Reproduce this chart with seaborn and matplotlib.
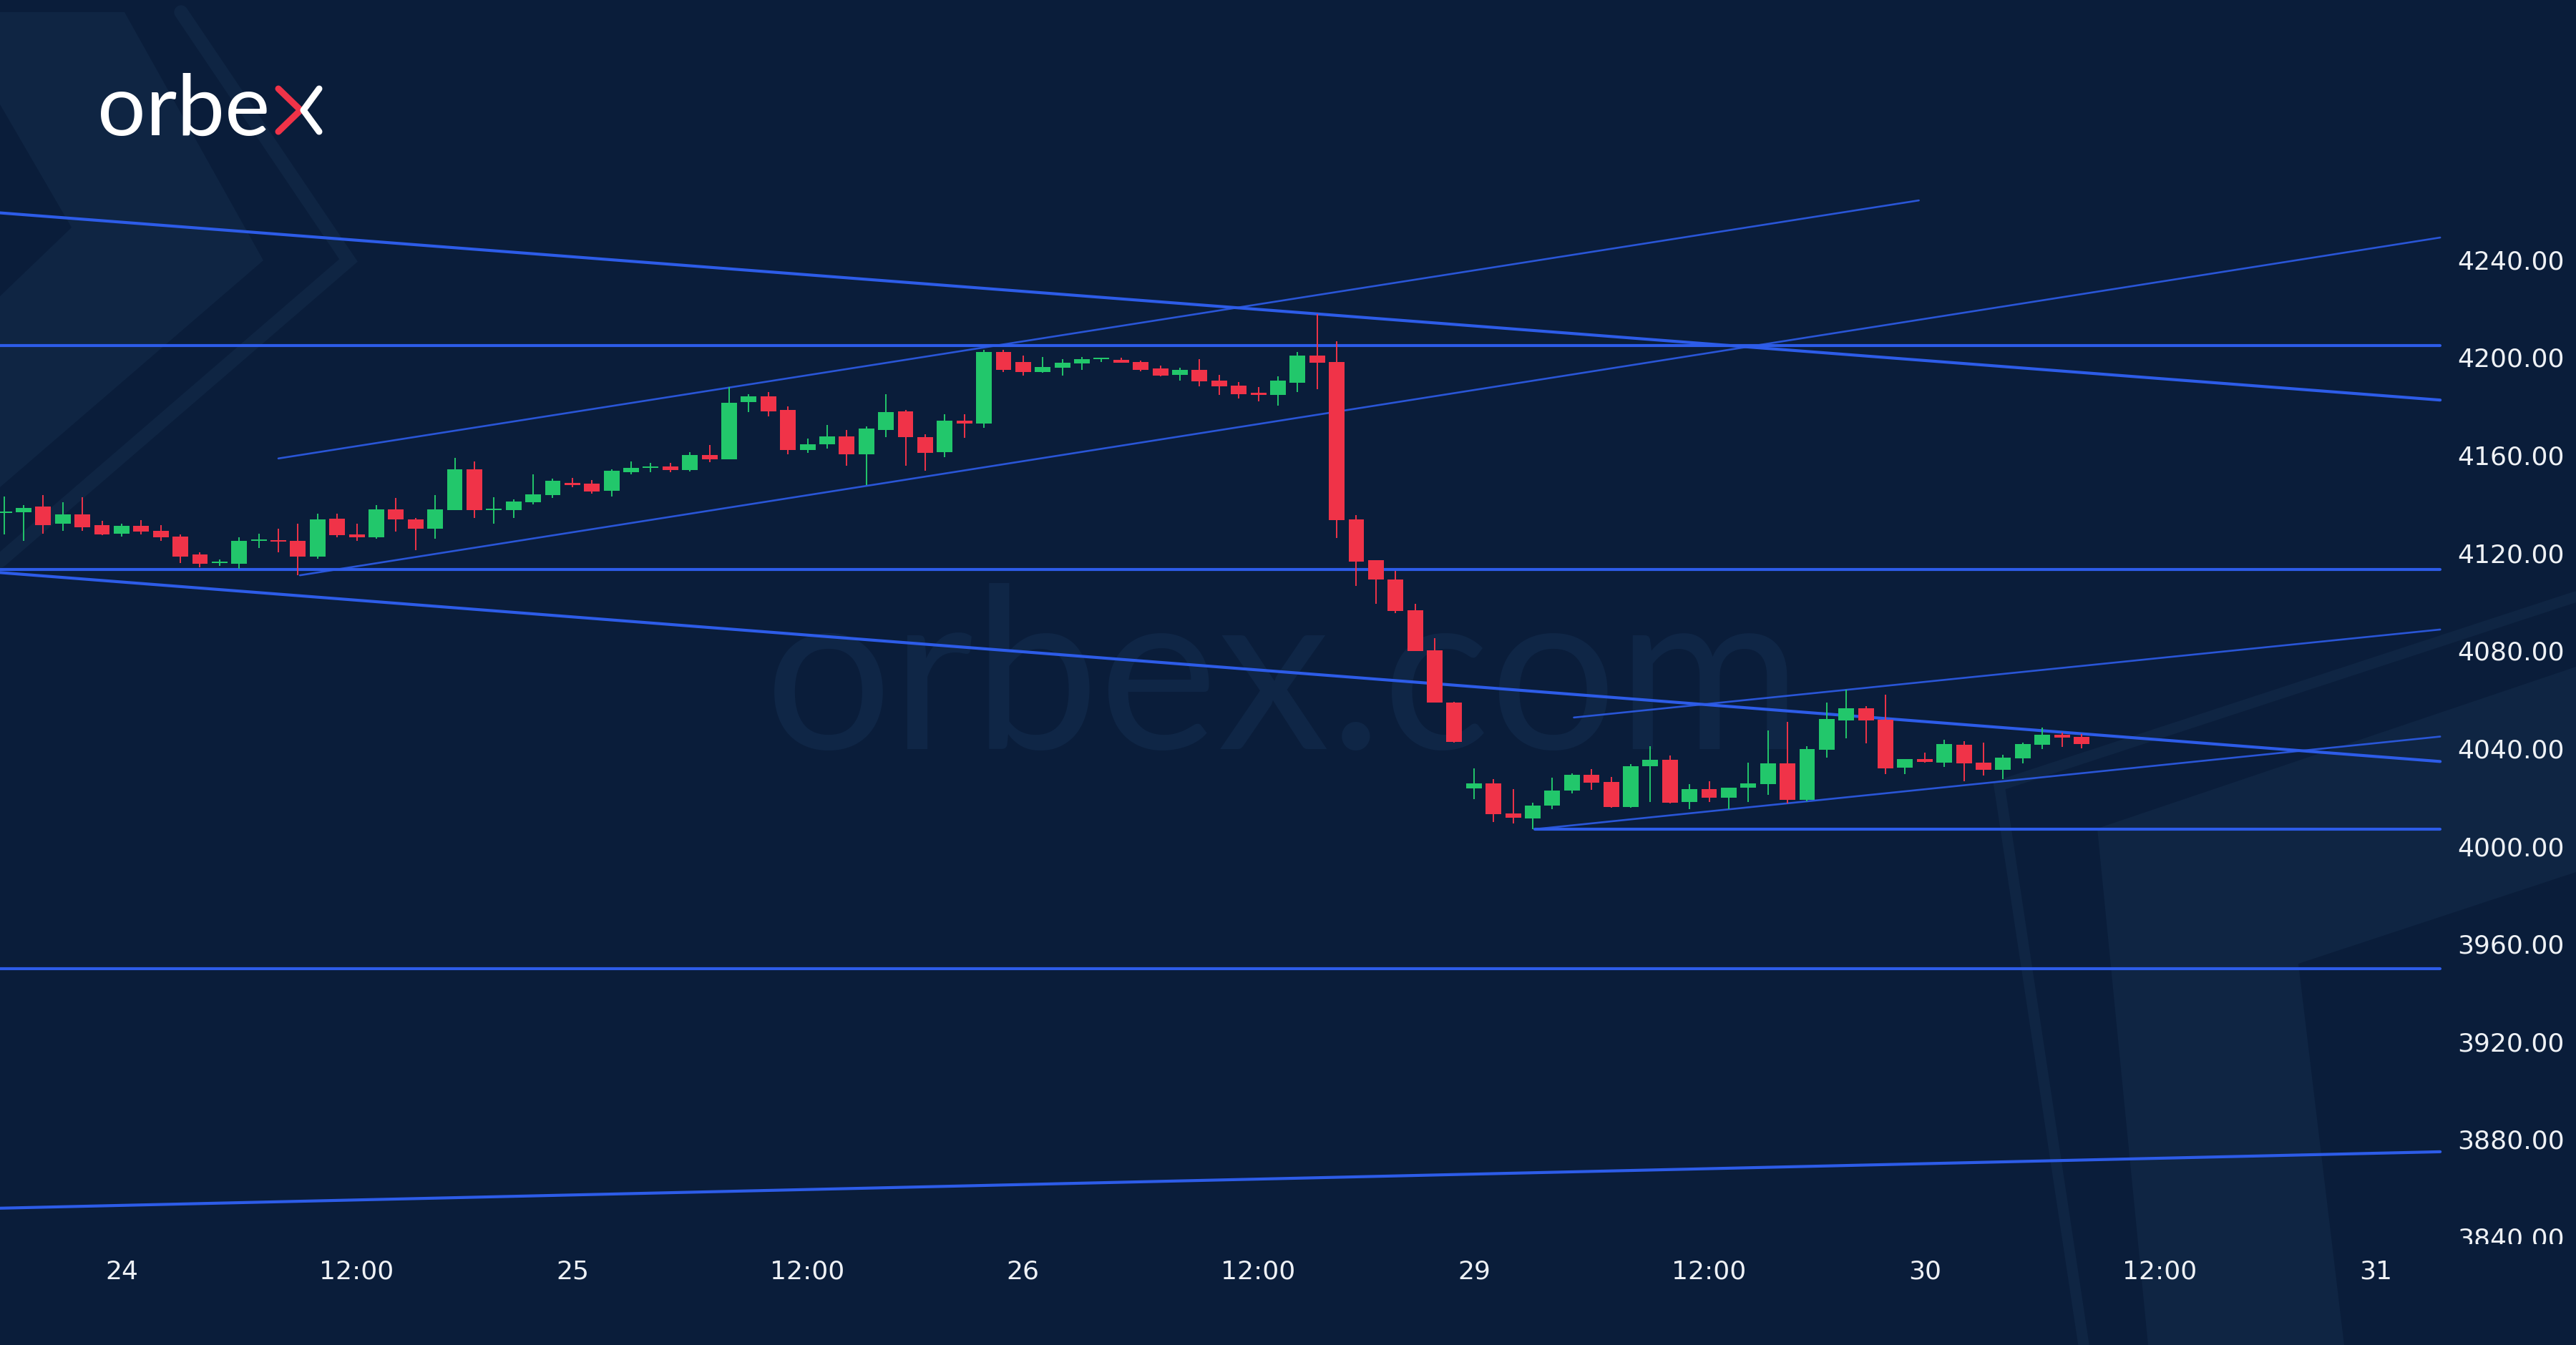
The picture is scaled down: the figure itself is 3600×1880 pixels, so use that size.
import numpy as np
import pandas as pd
import matplotlib
matplotlib.use("Agg")
import matplotlib.pyplot as plt
import matplotlib.patches as mpatches
import seaborn as sns

sns.set_theme(style="dark")
plt.rcParams["font.family"] = ["DejaVu Sans"]

# ---------------- data (hourly candles, index 0 = 24th 00:00) ----------------
hour_idx = list(range(-6, 101))
opens = [4136.1, 4136.4, 4138.5, 4131.5, 4135.4, 4131.0,
         4127.6, 4130.7, 4128.6, 4126.3, 4119.1, 4115.5, 4115.1, 4124.6, 4124.6, 4124.7,
         4118.2, 4133.7, 4127.2, 4125.9, 4137.6, 4133.3, 4129.6, 4137.1, 4154.0, 4137.3,
         4137.1, 4140.3, 4143.2, 4148.4, 4147.9, 4145.0, 4152.7, 4154.3, 4155.1, 4153.5,
         4159.8, 4157.9, 4181.3, 4183.7, 4178.1, 4161.8, 4164.0, 4167.3, 4160.1, 4170.1,
         4177.7, 4167.1, 4161.0, 4173.8, 4172.5, 4201.8, 4197.9, 4193.7, 4195.4, 4197.1,
         4198.8, 4198.7, 4197.9, 4195.2, 4192.5, 4194.5, 4190.1, 4188.1, 4185.2, 4184.2,
         4189.4, 4200.5, 4197.9, 4133.3, 4116.7, 4108.9, 4096.2, 4079.7, 4058.5,
         4023.4, 4025.4, 4012.9, 4011.0, 4016.2, 4022.5, 4028.9, 4025.9, 4015.6, 4032.5,
         4034.9, 4017.8, 4022.9, 4019.6, 4023.5, 4025.1, 4033.6, 4018.5, 4039.0, 4051.0,
         4056.2, 4051.5, 4031.8, 4035.4, 4033.7, 4041.0, 4033.7, 4030.8, 4035.6, 4041.0,
         4045.3, 4044.5]
highs = [4142.7, 4139.3, 4143.4, 4140.3, 4142.4, 4132.7,
         4131.7, 4133.0, 4131.0, 4127.1, 4120.0, 4117.1, 4125.9, 4127.4, 4129.6, 4131.7,
         4135.6, 4135.6, 4131.5, 4139.3, 4142.1, 4134.0, 4143.2, 4158.4, 4157.2, 4142.3,
         4141.6, 4151.8, 4150.1, 4150.2, 4149.6, 4153.8, 4157.1, 4156.6, 4156.6, 4160.8,
         4163.7, 4187.6, 4184.5, 4185.5, 4179.5, 4166.4, 4172.0, 4170.1, 4171.5, 4184.5,
         4178.2, 4168.3, 4176.4, 4176.4, 4202.8, 4202.8, 4200.5, 4199.8, 4198.9, 4199.8,
         4199.6, 4199.4, 4198.4, 4196.2, 4195.4, 4199.0, 4192.5, 4189.6, 4187.6, 4192.0,
         4201.8, 4217.3, 4206.2, 4135.0, 4116.7, 4112.4, 4098.8, 4084.9, 4058.6,
         4031.5, 4027.1, 4023.0, 4017.3, 4027.8, 4029.5, 4031.2, 4028.1, 4033.2, 4040.6,
         4036.7, 4025.1, 4026.3, 4023.7, 4033.7, 4047.1, 4050.5, 4040.6, 4058.3, 4063.7,
         4056.9, 4061.7, 4035.4, 4037.8, 4043.2, 4042.5, 4041.9, 4037.0, 4041.9, 4048.1,
         4046.1, 4045.6]
lows = [4127.1, 4124.7, 4127.6, 4128.8, 4128.8, 4126.8,
        4126.4, 4127.1, 4124.7, 4115.4, 4113.8, 4114.2, 4113.2, 4121.8, 4119.8, 4110.5,
        4117.4, 4125.9, 4124.7, 4125.5, 4128.4, 4120.8, 4125.5, 4137.1, 4134.0, 4131.5,
        4134.0, 4139.5, 4142.1, 4146.6, 4144.0, 4142.7, 4151.8, 4152.7, 4152.7, 4153.0,
        4156.9, 4157.9, 4177.4, 4175.6, 4160.0, 4160.6, 4162.3, 4155.2, 4147.3, 4167.1,
        4155.4, 4153.2, 4158.7, 4166.8, 4170.8, 4193.8, 4192.2, 4193.5, 4192.2, 4194.5,
        4197.9, 4197.4, 4194.0, 4191.8, 4190.3, 4187.9, 4184.2, 4182.8, 4181.8, 4179.8,
        4185.5, 4186.6, 4125.7, 4106.0, 4098.8, 4094.9, 4079.5, 4058.3, 4042.0,
        4018.8, 4009.5, 4009.0, 4006.6, 4014.9, 4021.2, 4022.7, 4015.4, 4015.4, 4017.8,
        4017.1, 4014.9, 4017.8, 4014.9, 4017.8, 4020.7, 4017.1, 4018.1, 4035.9, 4043.7,
        4041.7, 4029.1, 4029.2, 4033.9, 4032.0, 4026.3, 4028.6, 4027.1, 4033.4, 4039.5,
        4040.3, 4039.6]
closes = [4136.7, 4138.0, 4131.0, 4135.4, 4130.2, 4127.3,
          4130.7, 4128.3, 4126.0, 4118.2, 4115.2, 4115.8, 4124.7, 4124.8, 4124.3, 4118.2,
          4133.3, 4126.8, 4125.9, 4137.6, 4133.5, 4129.6, 4137.6, 4154.0, 4137.1, 4137.4,
          4140.6, 4143.5, 4149.3, 4147.4, 4144.7, 4153.2, 4154.3, 4154.5, 4153.7, 4159.6,
          4157.9, 4181.1, 4183.7, 4177.7, 4161.8, 4164.2, 4167.3, 4160.1, 4170.4, 4177.2,
          4167.0, 4160.6, 4173.8, 4172.5, 4201.8, 4194.5, 4193.7, 4195.7, 4197.4, 4198.9,
          4198.9, 4197.6, 4194.5, 4192.2, 4194.5, 4189.8, 4187.8, 4184.7, 4184.2, 4190.3,
          4200.5, 4197.6, 4133.0, 4116.0, 4108.9, 4095.8, 4079.5, 4058.3, 4042.2,
          4025.4, 4012.7, 4011.3, 4016.4, 4022.4, 4028.9, 4025.6, 4015.6, 4032.3, 4034.9,
          4017.5, 4022.9, 4019.6, 4023.7, 4025.4, 4033.6, 4018.5, 4039.3, 4051.8, 4056.2,
          4051.0, 4031.5, 4035.4, 4034.2, 4041.4, 4033.4, 4030.8, 4035.9, 4041.4, 4045.3,
          4044.2, 4041.5]

tick_pos = [0, 12, 23, 35, 46, 58, 69, 81, 92, 104, 115]
tick_lbl = ["24", "12:00", "25", "12:00", "26", "12:00", "29", "12:00", "30", "12:00", "31"]
price_ticks = [3840, 3880, 3920, 3960, 4000, 4040, 4080, 4120, 4160, 4200, 4240]

# drawn trend lines: start / end (hour index, price)
line_name = ["res_desc", "res_flat", "mid_flat", "sup_desc", "chan_up", "chan_lo",
             "low_flat", "base_up", "mon_flat", "tri_lo", "tri_hi"]
line_k0 = [-6.2, -6.2, -6.2, -6.2, 8.0, 9.1, -6.2, -6.2, 72.1, 72.1, 74.1]
line_p0 = [4258.8, 4204.4, 4113.0, 4111.6, 4158.3, 4110.5, 3949.5, 3851.5, 4006.6, 4006.6, 4052.3]
line_k1 = [118.3, 118.3, 118.3, 118.3, 91.7, 118.3, 118.3, 118.3, 118.3, 118.3, 118.3]
line_p1 = [4182.2, 4204.4, 4113.0, 4034.3, 4263.9, 4248.7, 3949.5, 3874.6, 4006.6, 4044.5, 4088.3]
line_thick = [True, True, True, True, False, False, True, True, True, False, False]

# ---------------- styling ----------------
BG = "#0a1d3a"
BG_LIGHT = "#0f2543"
GREEN = "#22c76b"
RED = "#f03348"
BLUE = "#2d5ce8"
TXT = "#eef1f5"

W, H = 3600, 1881
fig = plt.figure(figsize=(W / 100, H / 100), dpi=100, facecolor=BG)

# background decoration (pixel coordinates)
bg = fig.add_axes([0, 0, 1, 1], zorder=0)
bg.set_xlim(0, W)
bg.set_ylim(H, 0)
bg.axis("off")
bg.add_patch(mpatches.Polygon([(0, 18), (174, 18), (368, 365), (0, 682)], closed=True,
                              color=BG_LIGHT, lw=0))
bg.add_patch(mpatches.Polygon([(0, 147), (100, 319), (0, 415)], closed=True, color=BG, lw=0))
bg.plot([253, 487, 0], [18, 365, 785], color=BG_LIGHT, lw=14, solid_joinstyle="miter")
bg.add_patch(mpatches.Polygon([(2931, 1159), (3600, 933), (3600, 1220), (3212, 1348),
                               (3276, 1881), (3002, 1881)], closed=True, color=BG_LIGHT, lw=0))
bg.plot([3600, 2794, 2912], [835, 1099, 1881], color=BG_LIGHT, lw=11, solid_joinstyle="miter")

# watermark
bg.text(1069, 1047, "orbex.com", fontsize=226, family=["Lato", "DejaVu Sans"],
        fontweight="normal", color="#0f2646", ha="left", va="baseline", zorder=2)

# logo
bg.text(136, 189, "orbe", fontsize=86, family=["Lato", "DejaVu Sans"], fontweight="normal",
        color="white", ha="left", va="baseline", zorder=3)
bg.plot([389, 420, 389], [125, 155, 185], color=RED, lw=6.5, solid_capstyle="round", zorder=3)
bg.plot([446, 424, 446], [125, 155, 185], color="white", lw=6.5, solid_capstyle="round", zorder=3)

# main price axes
ax = fig.add_axes([0, (H - 1740) / H, 1, 1740 / H], zorder=1)
ax.patch.set_alpha(0)
for s in ax.spines.values():
    s.set_visible(False)
ax.grid(False)

df = pd.DataFrame({"k": hour_idx, "open": opens, "high": highs, "low": lows, "close": closes})
df["up"] = df["close"] >= df["open"]
cols = np.where(df["up"], GREEN, RED)
body_lo = np.minimum(df["open"], df["close"])
body_h = np.maximum((df["close"] - df["open"]).abs(), 0.6)

ax.vlines(df["k"], df["low"], df["high"], colors=cols, lw=1.4, zorder=3)
ax.bar(df["k"], body_h, bottom=body_lo, width=0.8, color=cols, lw=0, zorder=4)

# trend lines via seaborn
seg = pd.DataFrame({
    "line": line_name * 2,
    "k": line_k0 + line_k1,
    "price": line_p0 + line_p1,
    "thick": line_thick * 2,
})
sns.lineplot(data=seg[seg["thick"]], x="k", y="price", units="line", estimator=None,
             sort=False, color=BLUE, lw=3.0, ax=ax, legend=False, zorder=2)
sns.lineplot(data=seg[~seg["thick"]], x="k", y="price", units="line", estimator=None,
             sort=False, color=BLUE, lw=1.9, alpha=0.9, ax=ax, legend=False, zorder=2)

ax.set_xlim(-6.203, 125.23)
ax.set_ylim(3836.8, 4346.2)
ax.set_xlabel("")
ax.set_ylabel("")

ax.set_xticks(tick_pos, tick_lbl)
ax.tick_params(axis="x", length=0, pad=15, labelsize=26, labelcolor=TXT)
ax.yaxis.tick_right()
ax.set_yticks(price_ticks, [f"{v:.2f}" for v in price_ticks])
ax.tick_params(axis="y", length=0, pad=-119.5, labelsize=26, labelcolor=TXT)
for t in ax.get_yticklabels():
    t.set_clip_on(True)
    t.set_clip_box(ax.bbox)

fig.savefig("out.png", dpi=100, facecolor=BG)
